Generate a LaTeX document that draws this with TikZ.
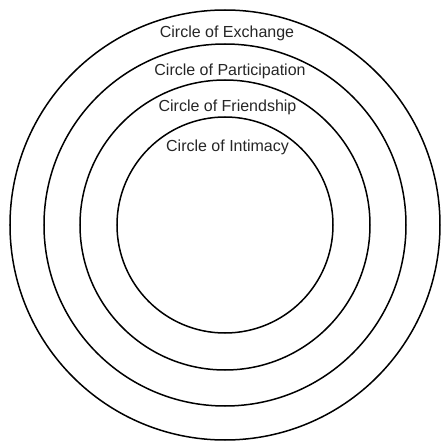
\documentclass[tikz,border=0pt]{standalone}
\usepackage{fontspec}
\setmainfont{Liberation Sans}

\begin{document}
\begin{tikzpicture}[x=1pt,y=1pt,ring/.style={draw,circle,line width=1.5pt,inner sep=0pt},ringtag/.style={font=\fontsize{16}{19}\selectfont,text=black!85,inner sep=0pt}]
\useasboundingbox (-225,-217) rectangle (215,225);
\node[ring,minimum size=430pt] (exchange) at (0,0) {};
\node[ring,minimum size=362pt] (participation) at (0,0) {};
\node[ring,minimum size=290pt] (friendship) at (0,0) {};
\node[ring,minimum size=216pt] (intimacy) at (0,0) {};
\node[ringtag] (exchangetag) at (2,192) {Circle of Exchange};
\node[ringtag] (participationtag) at (5,154) {Circle of Participation};
\node[ringtag] (friendshiptag) at (2.5,118) {Circle of Friendship};
\node[ringtag] (intimacytag) at (2.5,78) {Circle of Intimacy};
\end{tikzpicture}
\end{document}
